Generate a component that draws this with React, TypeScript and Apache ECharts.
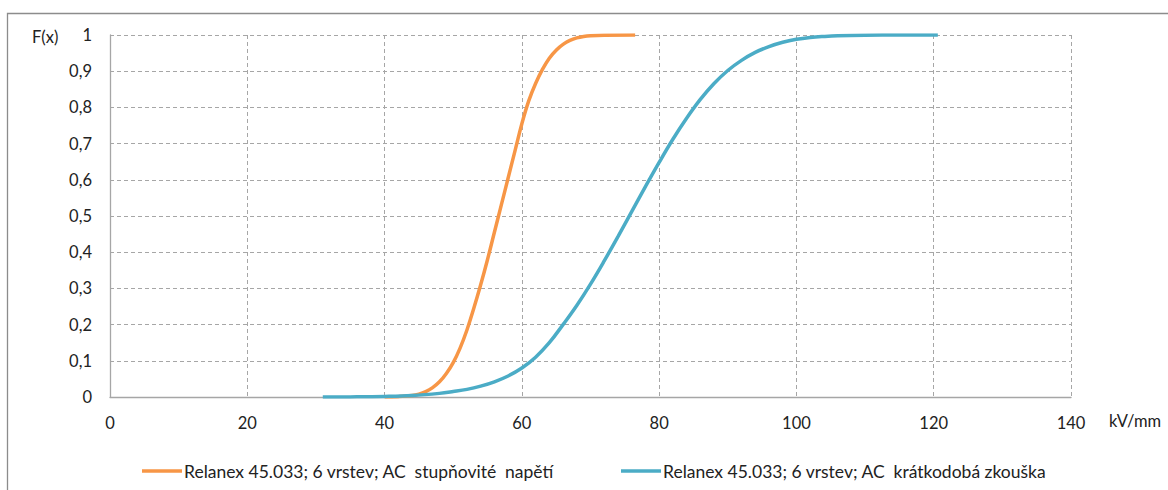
import React, { useEffect, useRef } from "react";
import * as echarts from "echarts";

const xTicksMin = 0;
const xTicksMax = 140;
const xTickStep = 20;
const yTicksMin = 0;
const yTicksMax = 1;
const yTickStep = 0.1;

const seriesNames = [
  "Relanex 45.033; 6 vrstev; AC  stupňovité  napětí",
  "Relanex 45.033; 6 vrstev; AC  krátkodobá zkouška",
];

const stepX = [40, 42, 44, 45, 46, 47, 48, 49, 50, 51, 52, 53, 54, 55, 56, 57, 58, 59, 60, 61, 62, 63, 64, 65, 66, 67, 68, 69, 70, 72, 76.5];
const stepY = [0, 0.001, 0.004, 0.008, 0.015, 0.026, 0.042, 0.065, 0.095, 0.135, 0.185, 0.245, 0.31, 0.38, 0.455, 0.53, 0.605, 0.68, 0.755, 0.818, 0.866, 0.905, 0.936, 0.958, 0.974, 0.985, 0.992, 0.996, 0.998, 0.9995, 1.0];

const shortX = [31, 35, 40, 44, 48, 50, 52, 54, 56, 58, 60, 62, 64, 66, 68, 70, 72, 74, 76, 78, 80, 82, 84, 86, 88, 90, 92, 94, 96, 98, 100, 102, 104, 106, 110, 115, 120.6];
const shortY = [0, 0.0003, 0.0015, 0.004, 0.01, 0.015, 0.021, 0.03, 0.042, 0.058, 0.08, 0.11, 0.15, 0.2, 0.253, 0.312, 0.376, 0.443, 0.512, 0.581, 0.648, 0.712, 0.77, 0.822, 0.866, 0.902, 0.93, 0.952, 0.968, 0.98, 0.988, 0.993, 0.996, 0.998, 0.9995, 1.0, 1.0];

const colors = ["#F79646", "#4BACC6"];
const FONT = "Lato";

export default function App() {
  const ref = useRef<HTMLDivElement>(null);
  useEffect(() => {
    if (!ref.current) return;
    const chart = echarts.init(ref.current, undefined, { renderer: "svg" });
    const pair = (xs: number[], ys: number[]) => xs.map((x, i) => [x, ys[i]]);
    const legendCommon = {
      top: 457,
      itemWidth: 40,
      itemHeight: 3.5,
      icon: "rect",
      itemGap: 0,
      textStyle: { fontSize: 17.5, color: "#222", fontFamily: FONT, padding: [0, 0, 0, -3] },
    };
    chart.setOption({
      animation: false,
      textStyle: { fontFamily: FONT },
      grid: { left: 110, right: 97, top: 35, bottom: 93 },
      xAxis: {
        type: "value",
        min: xTicksMin,
        max: xTicksMax,
        interval: xTickStep,
        axisLine: { show: true, lineStyle: { color: "#A6A6A6", width: 1.3 } },
        axisTick: { show: false },
        axisLabel: { color: "#222", fontSize: 16.5, margin: 17, fontFamily: FONT },
        splitLine: { show: true, lineStyle: { color: "#A6A6A6", type: [4, 3], width: 1 } },
      },
      yAxis: {
        type: "value",
        min: yTicksMin,
        max: yTicksMax,
        interval: yTickStep,
        axisLine: { show: true, lineStyle: { color: "#A6A6A6", width: 1.3 } },
        axisTick: { show: false },
        axisLabel: {
          color: "#222",
          fontSize: 16.5,
          margin: 18,
          fontFamily: FONT,
          formatter: (v: number) => String(Math.round(v * 10) / 10).replace(".", ","),
        },
        splitLine: { show: true, lineStyle: { color: "#A6A6A6", type: [4, 3], width: 1 } },
      },
      legend: [
        { ...legendCommon, data: [seriesNames[0]], left: 137 },
        { ...legendCommon, data: [seriesNames[1]], left: 616 },
      ],
      graphic: [
        {
          type: "rect",
          shape: { x: 7.5, y: 13.5, width: 1300, height: 600 },
          style: { fill: "none", stroke: "#8C8C8C", lineWidth: 1.3 },
          silent: true,
          z: -10,
        },
        {
          type: "text",
          left: 32,
          top: 28,
          style: { text: "F(x)", fontSize: 16.5, fill: "#222", fontFamily: FONT },
        },
        {
          type: "text",
          left: 1109,
          top: 412,
          style: { text: "kV/mm", fontSize: 16.5, fill: "#222", fontFamily: FONT },
        },
      ],
      series: [
        {
          name: seriesNames[0],
          type: "line",
          data: pair(stepX, stepY),
          smooth: 0.4,
          showSymbol: false,
          symbol: "none",
          lineStyle: { color: colors[0], width: 3.5 },
          itemStyle: { color: colors[0] },
          z: 2,
        },
        {
          name: seriesNames[1],
          type: "line",
          data: pair(shortX, shortY),
          smooth: 0.4,
          showSymbol: false,
          symbol: "none",
          lineStyle: { color: colors[1], width: 3.5 },
          itemStyle: { color: colors[1] },
          z: 3,
        },
      ],
    });
    return () => chart.dispose();
  }, []);
  return (
    <div
      ref={ref}
      style={{ position: "fixed", left: 0, top: 0, width: 1168, height: 490, background: "#fff" }}
    />
  );
}
